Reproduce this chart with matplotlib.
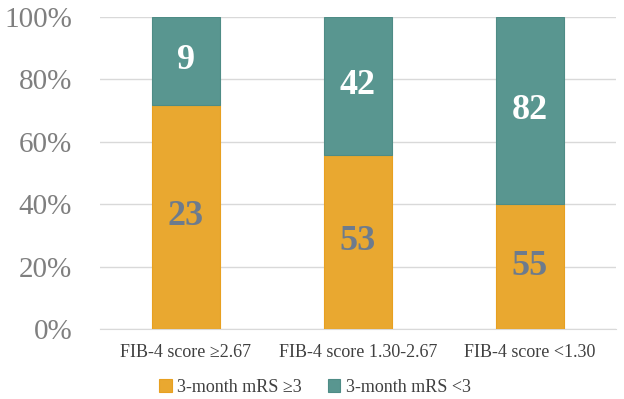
import matplotlib.pyplot as plt
import numpy as np

categories = ['FIB-4 score ≥2.67', 'FIB-4 score 1.30-2.67', 'FIB-4 score <1.30']
mrs_high = [23, 53, 55]   # 3-month mRS >=3
mrs_low = [9, 42, 82]     # 3-month mRS <3
series_names = ['3-month mRS ≥3', '3-month mRS <3']

plt.rcParams['font.family'] = ['Liberation Serif', 'DejaVu Serif']

high = np.array(mrs_high, dtype=float)
low = np.array(mrs_low, dtype=float)
total = high + low
high_pct = high / total * 100
low_pct = low / total * 100

fig = plt.figure(figsize=(6.24, 3.99), dpi=100)
ax = fig.add_axes([100 / 624, 1 - 329 / 399, 516 / 624, 312 / 399])

x = np.arange(len(categories))
w = 0.395
orange = '#E9A830'
teal = '#599690'
b1 = ax.bar(x, high_pct, w, color=orange, edgecolor='#E8A020', linewidth=0.8, zorder=3, label=series_names[0])
b2 = ax.bar(x, low_pct, w, bottom=high_pct, color=teal, edgecolor='#4E8C86', linewidth=0.8, zorder=3, label=series_names[1])

for i in range(len(categories)):
    ax.text(x[i], high_pct[i] / 2, str(mrs_high[i]), ha='center', va='center',
            fontsize=26, fontweight='bold', color='#6D7B8D', zorder=4)
    ax.text(x[i], high_pct[i] + low_pct[i] / 2, str(mrs_low[i]), ha='center', va='center',
            fontsize=26, fontweight='bold', color='white', zorder=4)

ax.set_xlim(-0.5, 2.5)
ax.set_ylim(0, 100)
ax.set_yticks(range(0, 101, 20))
ax.set_yticklabels([f'{v}%' for v in range(0, 101, 20)], fontsize=21, color='#7F7F7F')
ax.set_xticks(x)
ax.set_xticklabels(categories, fontsize=13, color='#404040')
ax.tick_params(axis='both', length=0)
ax.tick_params(axis='y', pad=20)
ax.tick_params(axis='x', pad=11)
ax.grid(axis='y', color='#D9D9D9', linewidth=1, zorder=0)
for s in ['top', 'right', 'left']:
    ax.spines[s].set_visible(False)
ax.spines['bottom'].set_color('#D9D9D9')

fig.legend(handles=[b1, b2], loc='center', bbox_to_anchor=(315 / 624, 1 - 387 / 399),
           ncol=2, frameon=False, fontsize=13, handlelength=0.7, handleheight=0.7,
           handletextpad=0.3, columnspacing=1.4, labelcolor='#404040')

fig.savefig('out.png', dpi=100)
